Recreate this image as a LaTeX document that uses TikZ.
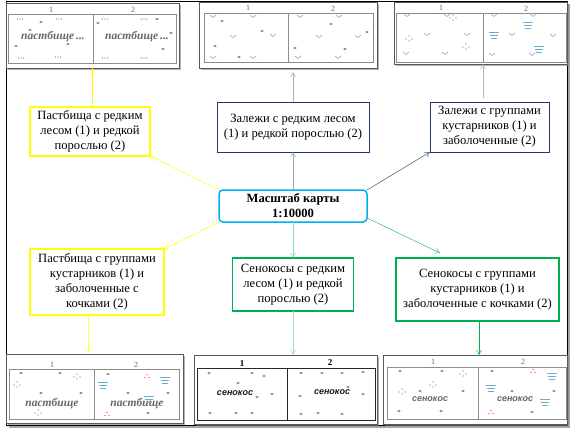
\documentclass[tikz,border=0pt]{standalone}
\usepackage{fontspec}
\setmainfont{Liberation Serif}
\newfontfamily\mapsans{Liberation Sans}
\usetikzlibrary{arrows.meta,positioning,shadows}
\definecolor{navybox}{HTML}{1F3864}
\definecolor{hubblue}{HTML}{00B0F0}
\definecolor{greenbox}{HTML}{00B050}
\definecolor{yellowbox}{HTML}{FFFF00}

\begin{document}
\begin{tikzpicture}[
        x=1pt, y=-1pt,
        box/.style={draw, outer sep=0pt, inner sep=1pt, align=center, fill=white, font=\fontsize{12.6}{15}\selectfont},
        yelbox/.style={box, draw=yellowbox, line width=1.4pt},
        navbox/.style={box, draw=navybox, line width=1pt},
        grnbox/.style={box, draw=greenbox, line width=1.2pt},
        arrow/.style={-{Straight Barb[length=1.6mm,width=1.8mm]}, line width=.5pt},
        panel/.style={draw=black!65, line width=.8pt, fill=white, outer sep=0pt, inner sep=0pt, drop shadow={shadow xshift=1.5pt, shadow yshift=-1.5pt, opacity=.6}},
        maprect/.style={draw=black!45, line width=.7pt},
        num/.style={inner sep=0pt, text=black!60, font=\fontsize{8}{8}\selectfont},
        pastlabel/.style={inner sep=0pt, text=black!60, font=\fontsize{11.5}{11.5}\selectfont\itshape\bfseries},
        senlabel/.style={inner sep=0pt, text=black!60, font=\mapsans\fontsize{9}{9}\selectfont\itshape\bfseries},
        vm/.pic={\draw[black!40, line width=.5pt] (-3,-1) -- (0,1.5) -- (3,-1);},
        blob/.pic={\fill[black!50] (0,0) ellipse (1.8pt and 1pt);},
        dots/.pic={\foreach \d in {-2.5,0,2.5} \fill[black!55] (\d,0) circle (.55pt);},
        cluster/.pic={\foreach \d/\e in {-3/0,0/-3,0/2,3/0} \fill[black!60] (\d,\e) circle (.6pt);},
        water/.pic={\draw[cyan!70!black!70, line width=.8pt] (-5,-3) -- (5,-3) (-4,0) -- (4,0) (-3,3) -- (3,3);},
        tri/.pic={\foreach \d/\e in {-2/1.5,0/-1.5,2/1.5} \fill[red!60!orange] (\d,\e) circle (.7pt);}
    ]
    \useasboundingbox (0,0) rectangle (578,432);
    \fill[white] (0,0) rectangle (578,432);
    \node[draw=black, line width=.9pt, fill=white, outer sep=0pt, minimum width=561pt, minimum height=424pt, drop shadow={shadow xshift=2.5pt, shadow yshift=-2.5pt, opacity=.7}] (frame) at (286.5,213) {};

    % centre and boxes
    \node[box, draw=hubblue, line width=1.5pt, rounded corners=4pt, minimum width=148pt, minimum height=32pt] (hub) at (293,206) {\textbf{Масштаб карты}\\\textbf{1:10000}};
    \node[yelbox, minimum width=120pt, minimum height=49pt, above left=34pt and 69pt of hub] (past1) {Пастбища с редким\\лесом (1) и редкой\\порослью (2)};
    \node[navbox, minimum width=152pt, minimum height=50pt, above=38pt of hub] (zal1) {Залежи с редким лесом\\(1) и редкой порослью (2)};
    \node[navbox, minimum width=119pt, minimum height=50pt, above right=38pt and 63pt of hub] (zal2) {Залежи с группами\\кустарников (1) и\\заболоченные (2)};
    \node[yelbox, minimum width=134pt, minimum height=66pt, below left=27pt and 55pt of hub] (past2) {Пастбища с группами\\кустарников (1) и\\заболоченные с\\кочками (2)};
    \node[grnbox, minimum width=121pt, minimum height=53pt, below=36pt of hub] (sen1) {Сенокосы с редким\\лесом (1) и редкой\\порослью (2)};
    \node[grnbox, minimum width=163pt, minimum height=63pt, below right=36pt and 29pt of hub] (sen2) {Сенокосы с группами\\кустарников (1) и\\заболоченные с кочками (2)};
    \coordinate[above=5pt of sen2.north west, xshift=44pt] (sen2tip);

    % map panels
    \node[panel, minimum width=173pt, minimum height=65pt, above=39pt of past1, xshift=2.5pt] (mapa) {};
    \node[panel, minimum width=178pt, minimum height=66pt, above=34pt of zal1, xshift=-5pt] (mapb) {};
    \node[panel, minimum width=173pt, minimum height=62pt, above=38pt of zal2, xshift=-9pt] (mapc) {};
    \node[panel, minimum width=177pt, minimum height=69pt, below=39pt of past2, xshift=-2.5pt] (mapd) {};
    \node[panel, minimum width=183pt, minimum height=69pt, below=44pt of sen1, xshift=-7.5pt] (mape) {};
    \node[panel, minimum width=184pt, minimum height=69pt, below=34pt of sen2, xshift=-2.5pt] (mapf) {};
    \coordinate[xshift=2.5pt] (mapctip) at (mapc.south);
    \coordinate[xshift=-6.5pt] (mapdtip) at (mapd.north);
    \coordinate[xshift=4pt] (mapftip) at (mapf.north);

    % connectors
    \draw[arrow, yellowbox] (hub.north west) -- (past1.south east);
    \draw[arrow, yellowbox] (mapa.south |- past1.north) -- (mapa.south);
    \draw[arrow, navybox!45] (hub.north) -- (zal1.south);
    \draw[arrow, navybox!40, shorten >=4pt] (zal1.north) -- (zal1.north |- mapb.south);
    \draw[arrow, navybox!85] (hub.north east) -- (zal2.south west);
    \draw[arrow, navybox!35, shorten <=4pt] (zal2.north -| mapctip) -- (mapctip);
    \draw[arrow, yellowbox] (hub.south west) -- (past2.north east);
    \draw[arrow, yellowbox!70, shorten >=1pt] (past2.south -| mapdtip) -- (mapdtip);
    \draw[arrow, greenbox!45] (hub.south) -- (sen1.north);
    \draw[arrow, greenbox!40] (sen1.south) -- (sen1.south |- mape.north);
    \draw[arrow, greenbox!80] ([yshift=4pt]hub.south east) -- (sen2tip);
    \draw[arrow, greenbox] (sen2.south -| mapftip) -- (mapftip);

    % map A
    \draw[maprect] (8,14) rectangle (176,63) (93,14) -- (93,63);
    \node[num] (a1) at (51,10) {1};
    \node[num] (a2) at (133,10) {2};
    \node[pastlabel] (at1) at (53,37) {пастбище\,...};
    \node[pastlabel] (at2) at (137,37) {пастбище\,...};
    \foreach \x/\y in {20/19,59/19,21/58,58/57,105/19,144/19,105/58,144/58} \pic at (\x,\y) {dots};
    \foreach \x/\y in {41/22,30/30,16/46,68/44,98/23,157/19,171/33,163/49} \pic at (\x,\y) {blob};

    % map B
    \draw[maprect] (204,13) rectangle (373,62) (288,13) -- (288,62);
    \node[num] (b1) at (248,8) {1};
    \node[num] (b2) at (333,9) {2};
    \foreach \x/\y in {213/16,253/16,233/36,273/35,213/57,253/57,300/16,339/16,319/36,358/36,298/57,338/57} \pic at (\x,\y) {vm};
    \foreach \x/\y in {222/21,262/31,215/46,239/57,331/24,367/32,295/48,345/49} \pic at (\x,\y) {blob};

    % map C
    \draw[maprect] (396,13) rectangle (566,62) (483,13) -- (483,62);
    \node[num] (c1) at (441,8) {1};
    \node[num] (c2) at (526,9) {2};
    \foreach \x/\y in {407/15,447/15,427/34,467/34,406/53,445/53,494/15,533/15,512/34,553/35,492/54,532/54} \pic at (\x,\y) {vm};
    \foreach \x/\y in {453/18,409/39,466/47} \pic at (\x,\y) {cluster};
    \foreach \x/\y in {528/25,494/35,539/49} \pic at (\x,\y) {water};

    % map D
    \draw[maprect] (9,369) rectangle (179,419) (94,369) -- (94,419);
    \node[num] (d1) at (52,365) {1};
    \node[num] (d2) at (136,365) {2};
    \node[pastlabel] (dt1) at (52,404) {пастбище};
    \node[pastlabel] (dt2) at (137,404) {пастбище};
    \foreach \x/\y in {21/373,60/373,41/393,81/393,108/374,168/393,128/393,148/413} \pic at (\x,\y) {blob};
    \foreach \x/\y in {17/385,77/377,38/413} \pic at (\x,\y) {cluster};
    \foreach \x/\y in {103/385,165/380,149/399} \pic at (\x,\y) {water};
    \foreach \x/\y in {147/376,107/414} \pic at (\x,\y) {tri};

    % map E
    \draw[draw=black!85, line width=.9pt] (197,368) rectangle (375,420) (287,368) -- (287,420);
    \node[num, text=black, font=\fontsize{9}{9}\selectfont\bfseries] (e1) at (242,364) {1};
    \node[num, text=black, font=\fontsize{9}{9}\selectfont\bfseries] (e2) at (330,363) {2};
    \node[senlabel, text=black!90] (et1) at (235,393) {сенокос};
    \node[senlabel, text=black!90] (et2) at (332,392) {сенокос};
    \foreach \x/\y in {209/373,252/373,264/376,238/383,257/397,272/394,210/413,236/413,252/413,301/373,322/373,342/373,363/372,348/387,300/396,363/394,301/414,318/413,342/414} \pic[black] at (\x,\y) {blob};

    % map F
    \draw[maprect] (387,367) rectangle (566,419) (478,367) -- (478,419);
    \node[num] (f1) at (433,362) {1};
    \node[num] (f2) at (523,362) {2};
    \node[senlabel] (ft1) at (430,399) {сенокос};
    \node[senlabel] (ft2) at (515,399) {сенокос};
    \foreach \x/\y in {400/371,442/371,420/391,463/391,399/411,441/411,492/371,512/391,554/391,532/412} \pic at (\x,\y) {blob};
    \foreach \x/\y in {463/374,402/392,433/385} \pic at (\x,\y) {cluster};
    \foreach \x/\y in {552/376,491/388,545/402} \pic at (\x,\y) {water};
    \foreach \x/\y in {533/371,491/412} \pic at (\x,\y) {tri};
\end{tikzpicture}
\end{document}
